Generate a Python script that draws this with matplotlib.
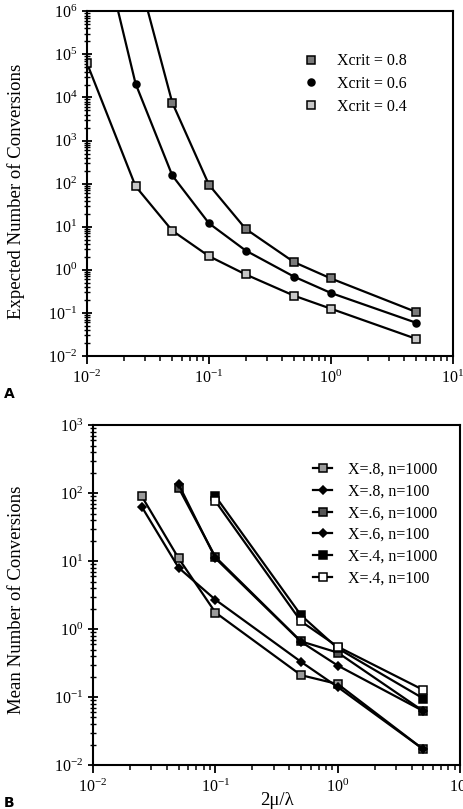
import matplotlib
matplotlib.use("Agg")
import matplotlib.pyplot as plt
from matplotlib.ticker import LogLocator, NullFormatter

plt.rcParams['font.family'] = ['Liberation Serif', 'DejaVu Serif']
plt.rcParams['mathtext.fontset'] = 'custom'
plt.rcParams['mathtext.rm'] = 'Liberation Serif'
plt.rcParams['mathtext.it'] = 'Liberation Serif:italic'

# Panel A: expected number of conversions vs 2u/lambda
xa_08 = [0.025, 0.05, 0.1, 0.2, 0.5, 1, 5]
ya_08 = [1.2e7, 7.6e3, 94, 8.9, 1.5, 0.63, 0.105]
xa_06 = [0.01, 0.025, 0.05, 0.1, 0.2, 0.5, 1, 5]
ya_06 = [1e9, 2.1e4, 155, 12, 2.8, 0.69, 0.29, 0.059]
xa_04 = [0.01, 0.025, 0.05, 0.1, 0.2, 0.5, 1, 5]
ya_04 = [6.2e4, 87, 8.1, 2.07, 0.78, 0.25, 0.125, 0.025]

# Panel B: simulated mean number of conversions
xb_8_1000 = [0.025, 0.05, 0.1, 0.5, 1, 5]
yb_8_1000 = [90, 11, 1.75, 0.21, 0.155, 0.017]
xb_8_100 = [0.025, 0.05, 0.1, 0.5, 1, 5]
yb_8_100 = [63, 8, 2.7, 0.33, 0.14, 0.017]
xb_6_1000 = [0.05, 0.1, 0.5, 1, 5]
yb_6_1000 = [120, 11.5, 0.66, 0.45, 0.062]
xb_6_100 = [0.05, 0.1, 0.5, 1, 5]
yb_6_100 = [135, 11, 0.65, 0.29, 0.062]
xb_4_1000 = [0.1, 0.5, 1, 5]
yb_4_1000 = [90, 1.6, 0.52, 0.095]
xb_4_100 = [0.1, 0.5, 1, 5]
yb_4_100 = [76, 1.3, 0.55, 0.127]

fig = plt.figure(figsize=(4.63, 8.09), dpi=100)
ax1 = fig.add_axes([0.188, 0.560, 0.790, 0.426])
ax2 = fig.add_axes([0.201, 0.0544, 0.793, 0.420])


def style_axes(ax, ylo, yhi):
    ax.set_xscale('log')
    ax.set_yscale('log')
    ax.set_xlim(0.01, 10)
    ax.set_ylim(ylo, yhi)
    for s in ax.spines.values():
        s.set_linewidth(1.5)
    ax.xaxis.set_minor_locator(LogLocator(base=10, subs=range(2, 10), numticks=20))
    ax.yaxis.set_minor_locator(LogLocator(base=10, subs=range(2, 10), numticks=20))
    ax.xaxis.set_minor_formatter(NullFormatter())
    ax.yaxis.set_minor_formatter(NullFormatter())
    ax.tick_params(axis='x', which='major', direction='out', length=6, width=1.3, labelsize=11.5, pad=4)
    ax.tick_params(axis='x', which='minor', direction='out', length=3.5, width=1.1)
    ax.tick_params(axis='y', which='major', direction='inout', length=7, width=1.3, labelsize=11.5)
    ax.tick_params(axis='y', which='minor', direction='inout', length=4, width=1.0)
    ax.tick_params(top=False, right=False, which='both')


kw = dict(color='black', lw=1.6, markeredgecolor='black', markeredgewidth=1.1)

ax1.plot(xa_08, ya_08, marker='s', ms=6, markerfacecolor='#7a7a7a', label='Xcrit = 0.8', **kw)
ax1.plot(xa_06, ya_06, marker='o', ms=5, markerfacecolor='black', label='Xcrit = 0.6', **kw)
ax1.plot(xa_04, ya_04, marker='s', ms=6, markerfacecolor='#c8c8c8', label='Xcrit = 0.4', **kw)
style_axes(ax1, 1e-2, 1e6)
ax1.set_ylabel('Expected Number of Conversions', fontsize=13.5)
ax1.yaxis.set_label_coords(-0.17, 0.477)
leg1 = ax1.legend(loc='upper left', bbox_to_anchor=(0.56, 0.92), frameon=False, fontsize=11.5,
                  handlelength=0.6, handletextpad=1.3, labelspacing=0.42, numpoints=1)
for h in leg1.legend_handles:
    h.set_linestyle('None')

ax2.plot(xb_8_1000, yb_8_1000, marker='s', ms=5.5, markerfacecolor='#9a9a9a', label='X=.8, n=1000', **kw)
ax2.plot(xb_8_100, yb_8_100, marker='D', ms=4, markerfacecolor='black', label='X=.8, n=100', **kw)
ax2.plot(xb_6_1000, yb_6_1000, marker='s', ms=5.5, markerfacecolor='#555555', label='X=.6, n=1000', **kw)
ax2.plot(xb_6_100, yb_6_100, marker='D', ms=4, markerfacecolor='black', label='X=.6, n=100', **kw)
ax2.plot(xb_4_1000, yb_4_1000, marker='s', ms=5.5, markerfacecolor='black', label='X=.4, n=1000', **kw)
ax2.plot(xb_4_100, yb_4_100, marker='s', ms=5.5, markerfacecolor='white', label='X=.4, n=100', **kw)
style_axes(ax2, 1e-2, 1e3)
ax2.set_ylabel('Mean Number of Conversions', fontsize=13.5)
ax2.yaxis.set_label_coords(-0.185, 0.485)
ax2.set_xlabel('2\u03bc/\u03bb', fontsize=13.5, labelpad=-3)
ax2.legend(loc='upper left', bbox_to_anchor=(0.56, 0.935), frameon=False, fontsize=11.5,
           handlelength=1.2, handletextpad=1.0, labelspacing=0.36, numpoints=1)

fig.text(0.008, 0.508, 'A', fontsize=10, fontweight='bold', family='DejaVu Sans')
fig.text(0.008, 0.002, 'B', fontsize=10, fontweight='bold', family='DejaVu Sans')

fig.savefig('out.png', dpi=100)
